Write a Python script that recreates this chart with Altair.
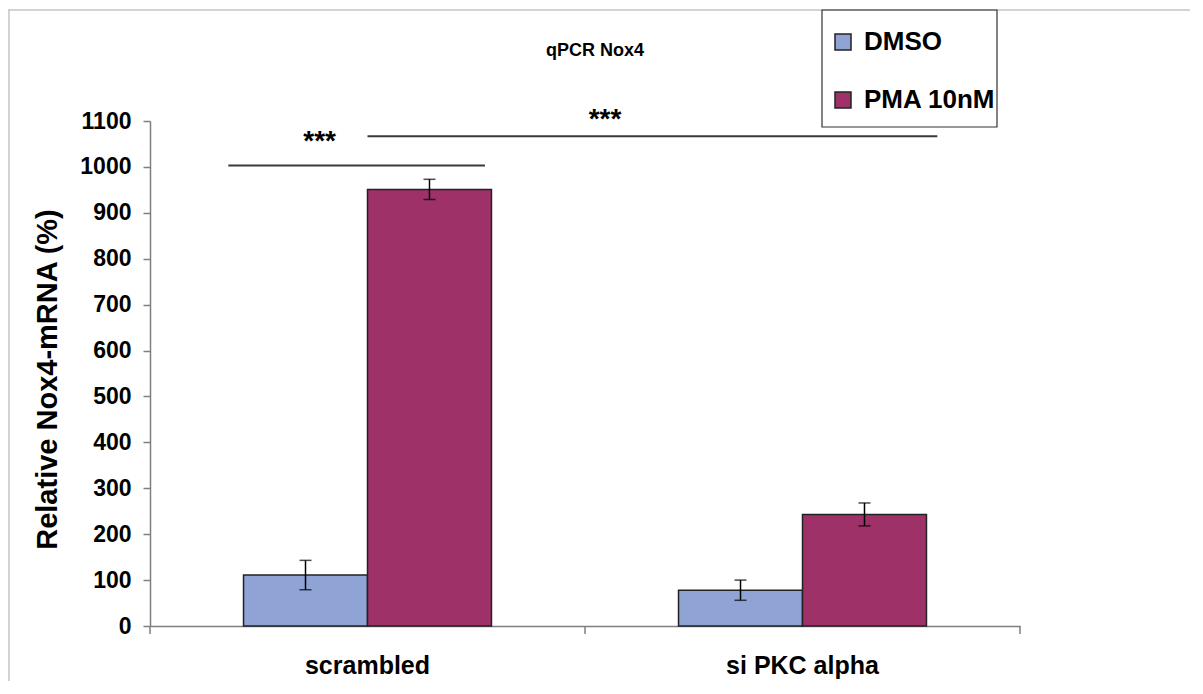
import altair as alt
import pandas as pd

# ---- data ----
cats = ["scrambled", "si PKC alpha"]
groups = ["DMSO", "PMA 10nM"]
dmso_vals = [111, 78]
pma_vals = [951, 243]
dmso_err = [32, 22]
pma_err = [22, 25]
y_ticks = [0, 100, 200, 300, 400, 500, 600, 700, 800, 900, 1000, 1100]

# significance brackets (x on a 0..2 category-width scale)
sig_x1 = [0.18, 0.50]
sig_x2 = [0.77, 1.81]
sig_y = [1003, 1067]
star_x = [0.39, 1.046]
star_y = [1036, 1084]
star_txt = ["***", "***"]
cat_bounds = [0, 1, 2]

colors = ["#8FA3D4", "#9E3268"]
FONT = "Liberation Sans"

rows = []
for i, c in enumerate(cats):
    rows.append(dict(cat=c, grp=groups[0], val=dmso_vals[i],
                     lo=dmso_vals[i] - dmso_err[i], hi=dmso_vals[i] + dmso_err[i]))
    rows.append(dict(cat=c, grp=groups[1], val=pma_vals[i],
                     lo=pma_vals[i] - pma_err[i], hi=pma_vals[i] + pma_err[i]))
df = pd.DataFrame(rows)
sig_df = pd.DataFrame(dict(x1=sig_x1, x2=sig_x2, y=sig_y))
star_df = pd.DataFrame(dict(x=star_x, y=star_y, t=star_txt))
bound_df = pd.DataFrame(dict(x=cat_bounds))
one = pd.DataFrame(dict(a=[0]))

yscale = alt.Scale(domain=[0, 1100], nice=False, zero=True)
x_axis = alt.Axis(title=None, ticks=False, labelAngle=0, labelFontSize=25,
                  labelFont=FONT, labelFontWeight="bold", labelColor="black",
                  labelPadding=27, domainColor="#7f7f7f", domainWidth=1.5)
x_scale = alt.Scale(domain=cats, paddingInner=0.43, paddingOuter=0.215)
xo_scale = alt.Scale(domain=groups, paddingInner=0, paddingOuter=0)
y_axis = alt.Axis(title="Relative Nox4-mRNA (%)", values=y_ticks, format="d", grid=False,
                  labelFontSize=23, labelFont=FONT, labelFontWeight="bold",
                  labelColor="black", labelPadding=12, tickSize=7, tickColor="#7f7f7f",
                  domainColor="#7f7f7f", domainWidth=1.5, tickWidth=1.5,
                  titleFontSize=29, titleFont=FONT, titleFontWeight="bold",
                  titleColor="black", titleX=-103, titleY=258, titleAngle=270,
                  titleAlign="center", titleBaseline="middle")


def xe():
    return alt.X("cat:N", sort=cats, scale=x_scale, axis=x_axis)


def xoe():
    return alt.XOffset("grp:N", sort=groups, scale=xo_scale)


bars = alt.Chart(df).mark_bar(stroke="#222222", strokeWidth=1.5).encode(
    x=xe(), xOffset=xoe(),
    y=alt.Y("val:Q", scale=yscale, axis=y_axis),
    color=alt.Color("grp:N", sort=groups,
                    scale=alt.Scale(domain=groups, range=colors),
                    legend=alt.Legend(orient="none", legendX=680, legendY=-92, title=None,
                                      labelFontSize=26, labelFont=FONT,
                                      labelFontWeight="bold", labelColor="black",
                                      symbolType="square", symbolSize=256,
                                      symbolStrokeColor="#222222", symbolStrokeWidth=1.5,
                                      rowPadding=32, labelOffset=8, padding=0)),
)

err = alt.Chart(df).mark_rule(color="black", strokeWidth=1.5).encode(
    x=xe(), xOffset=xoe(),
    y=alt.Y("lo:Q", scale=yscale, axis=y_axis), y2="hi:Q")
cap_lo = alt.Chart(df).mark_tick(color="black", size=12, thickness=1.5).encode(
    x=xe(), xOffset=xoe(),
    y=alt.Y("lo:Q", scale=yscale, axis=y_axis))
cap_hi = alt.Chart(df).mark_tick(color="black", size=12, thickness=1.5).encode(
    x=xe(), xOffset=xoe(),
    y=alt.Y("hi:Q", scale=yscale, axis=y_axis))

band_layer = alt.layer(bars, err, cap_lo, cap_hi)

qx = alt.Scale(domain=[0, 2], nice=False, zero=False)
sig = alt.Chart(sig_df).mark_rule(color="#3a3a3a", strokeWidth=2).encode(
    x=alt.X("x1:Q", scale=qx, axis=None), x2="x2:Q",
    y=alt.Y("y:Q", scale=yscale, axis=y_axis))
stars = alt.Chart(star_df).mark_text(font=FONT, fontSize=28, fontWeight="bold",
                                     color="black", baseline="alphabetic",
                                     align="center").encode(
    x=alt.X("x:Q", scale=qx, axis=None),
    y=alt.Y("y:Q", scale=yscale, axis=y_axis), text="t:N")
bticks = alt.Chart(bound_df).mark_rule(color="#7f7f7f", strokeWidth=1.5).encode(
    x=alt.X("x:Q", scale=qx, axis=None), y=alt.value(505), y2=alt.value(513))

quant_layer = alt.layer(sig, stars, bticks)

frame_top = alt.Chart(one).mark_rule(color="#c4c4c4", strokeWidth=1.5).encode(
    x=alt.value(-142), x2=alt.value(1060), y=alt.value(-111))
frame_left = alt.Chart(one).mark_rule(color="#c4c4c4", strokeWidth=1.5).encode(
    x=alt.value(-141), y=alt.value(-111), y2=alt.value(580))
legend_box = alt.Chart(one).mark_rect(fillOpacity=0, stroke="#333333",
                                      strokeWidth=1.2).encode(
    x=alt.value(672), x2=alt.value(847), y=alt.value(-111), y2=alt.value(6))

chart = alt.layer(
    frame_top, frame_left, band_layer, quant_layer, legend_box
).resolve_scale(x="independent").properties(
    width=870, height=505,
    background="white",
    title=alt.Title("qPCR Nox4", fontSize=18, font=FONT, fontWeight="bold",
                    color="black", anchor="middle", dx=10, offset=-51),
    autosize=alt.AutoSizeParams(type="none"),
    padding={"left": 142, "top": 113, "right": 170, "bottom": 55},
).configure_view(stroke="transparent", strokeOpacity=0)

chart.save("out.html", embed_options={"renderer": "svg", "actions": False})
